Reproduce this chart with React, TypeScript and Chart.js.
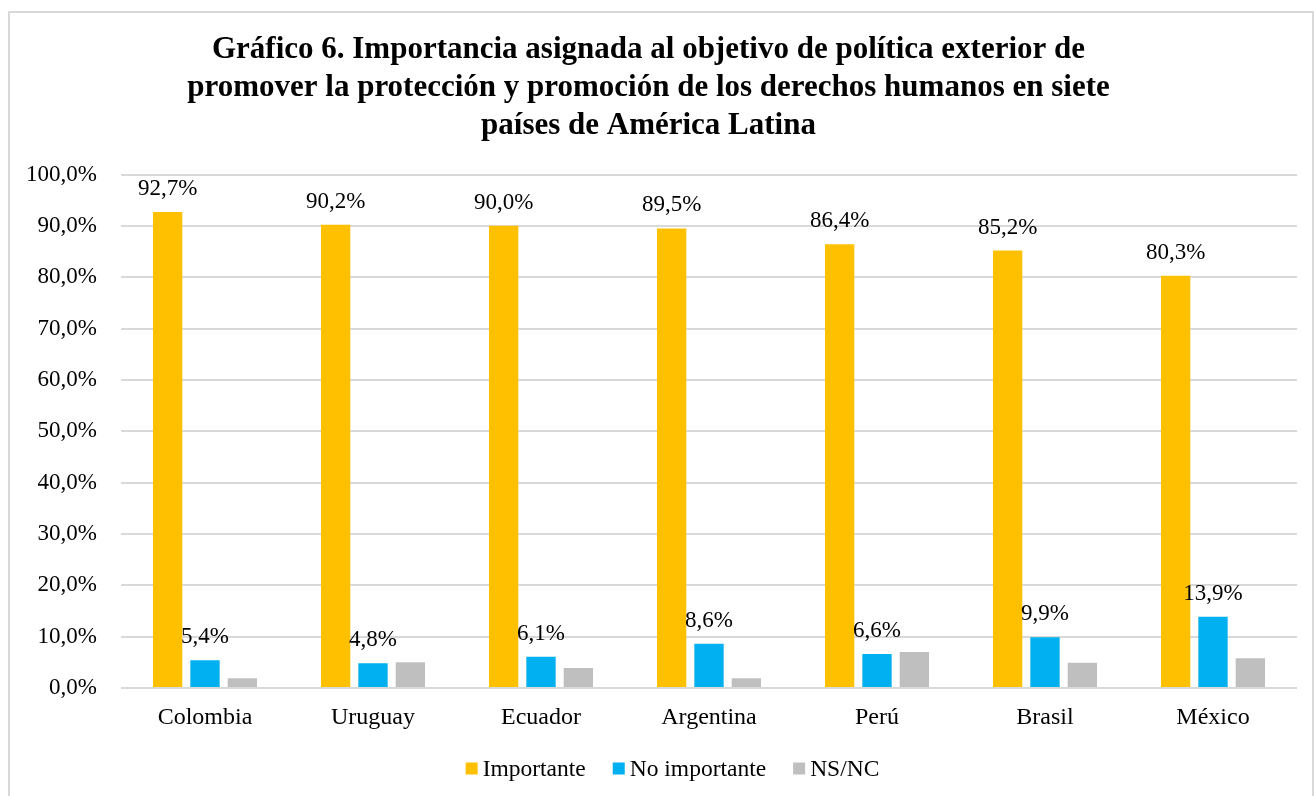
import React, { useEffect, useRef } from 'react';
import { Chart, registerables } from 'chart.js';

Chart.register(...registerables);

const categories = ['Colombia', 'Uruguay', 'Ecuador', 'Argentina', 'Perú', 'Brasil', 'México'];
const importante = [92.7, 90.2, 90.0, 89.5, 86.4, 85.2, 80.3];
const noImportante = [5.4, 4.8, 6.1, 8.6, 6.6, 9.9, 13.9];
const nsnc = [1.9, 5.0, 3.9, 1.9, 7.0, 4.9, 5.8];
const seriesNames = ['Importante', 'No importante', 'NS/NC'];
const seriesColors = ['#FFC000', '#00B0F0', '#BFBFBF'];
const titleLines = [
  'Gráfico 6. Importancia asignada al objetivo de política exterior de',
  'promover la protección y promoción de los derechos humanos en siete',
  'países de América Latina',
];
const yMin = 0;
const yMax = 100;
const yStep = 10;

const FONT = "'Liberation Serif', 'Times New Roman', serif";

const fmt = (v: number) => v.toFixed(1).replace('.', ',') + '%';

const labelPlugin = {
  id: 'valueLabels',
  afterDatasetsDraw(chart: any) {
    const ctx = chart.ctx;
    ctx.save();
    ctx.font = `23px ${FONT}`;
    ctx.fillStyle = '#000';
    ctx.textAlign = 'center';
    ctx.textBaseline = 'alphabetic';
    [0, 1].forEach((di) => {
      const meta = chart.getDatasetMeta(di);
      const data = chart.data.datasets[di].data as number[];
      meta.data.forEach((bar: any, i: number) => {
        ctx.fillText(fmt(data[i]), bar.x, bar.y - 17);
      });
    });
    ctx.restore();
  },
};

// Excel-style legend: small square, short gap, label, wide gap between items
const legendPlugin = {
  id: 'excelLegend',
  afterDraw(chart: any) {
    const ctx = chart.ctx;
    const box = 12;
    const boxGap = 5;
    const itemGap = 27;
    const cy = 768.5;
    ctx.save();
    ctx.font = `23.5px ${FONT}`;
    const items = chart.data.datasets.map((ds: any) => ({
      text: ds.label as string,
      color: ds.backgroundColor as string,
      w: ctx.measureText(ds.label).width,
    }));
    const total =
      items.reduce((s: number, it: any) => s + box + boxGap + it.w, 0) + itemGap * (items.length - 1);
    let x = 672.5 - total / 2;
    ctx.textBaseline = 'middle';
    ctx.textAlign = 'left';
    items.forEach((it: any) => {
      ctx.fillStyle = it.color;
      ctx.fillRect(x, cy - box / 2, box, box);
      x += box + boxGap;
      ctx.fillStyle = '#000';
      ctx.fillText(it.text, x, cy + 1);
      x += it.w + itemGap;
    });
    ctx.restore();
  },
};

export default function App() {
  const ref = useRef<HTMLCanvasElement>(null);

  useEffect(() => {
    if (!ref.current) return;
    const chart = new Chart(ref.current, {
      type: 'bar',
      data: {
        labels: categories,
        datasets: [importante, noImportante, nsnc].map((d, i) => ({
          label: seriesNames[i],
          data: d,
          backgroundColor: seriesColors[i],
          borderWidth: 0,
          categoryPercentage: 0.667,
          barPercentage: 0.785,
        })),
      },
      options: {
        responsive: false,
        animation: false,
        devicePixelRatio: 1,
        layout: { padding: { left: 0, right: 17, top: 0, bottom: 49 } },
        plugins: {
          tooltip: { enabled: false },
          title: {
            display: true,
            text: titleLines,
            color: '#000',
            font: { family: FONT, size: 31, weight: 'bold', lineHeight: 1.226 },
            padding: { top: 31, bottom: 29.5 },
          },
          legend: { display: false },
        },
        scales: {
          x: {
            grid: { display: false },
            border: { display: false },
            ticks: { color: '#000', font: { family: FONT, size: 24 }, padding: 7 },
            afterFit: (s: any) => {
              s.height = 59;
            },
          },
          y: {
            min: yMin,
            max: yMax,
            grid: { color: '#D9D9D9', lineWidth: 2, drawTicks: false },
            border: { display: false },
            ticks: {
              stepSize: yStep,
              color: '#000',
              padding: 24,
              font: { family: FONT, size: 23 },
              callback: (v: any) => fmt(Number(v)),
            },
            afterFit: (s: any) => {
              s.width = 121;
            },
          },
        },
      },
      plugins: [labelPlugin, legendPlugin],
    } as any);
    return () => chart.destroy();
  }, []);

  return (
    <>
      <div
        style={{
          position: 'fixed',
          left: 8,
          top: 11,
          width: 1306,
          height: 800,
          boxSizing: 'border-box',
          border: '2px solid #D9D9D9',
          background: '#fff',
        }}
      />
      <canvas
        ref={ref}
        width={1314}
        height={796}
        style={{ position: 'fixed', left: 0, top: 0, width: 1314, height: 796 }}
      />
    </>
  );
}
